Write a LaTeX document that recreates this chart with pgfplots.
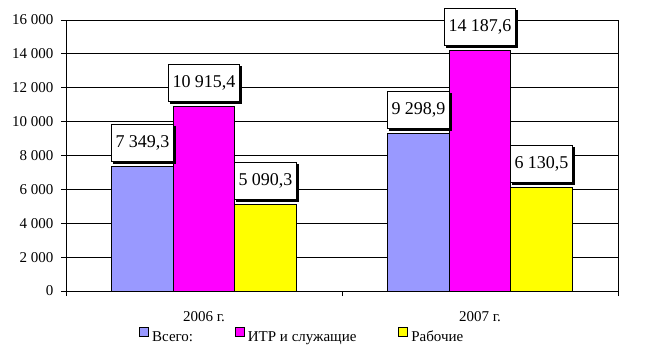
\documentclass[border=0pt]{standalone}
\usepackage{pgfplots}
\pgfplotsset{compat=1.18}
\usepackage{fontspec}
\setmainfont{Liberation Serif}
\usetikzlibrary{shadows}

\definecolor{cBlue}{HTML}{9999FF}
\definecolor{cMag}{HTML}{FF00FF}
\definecolor{cYel}{HTML}{FFFF00}

\begin{document}
\begin{tikzpicture}
\useasboundingbox (-66pt,-62pt) rectangle (581pt,291pt);
\begin{axis}[
  at={(0,0)}, anchor=south west,
  scale only axis, width=552pt, height=271pt,
  xmin=-0.5, xmax=1.5, ymin=0, ymax=16000,
  ybar=0pt, bar width=61.5pt,
  xtick={-0.5,0.5,1.5}, xticklabels={},
  extra x ticks={0,1}, extra x tick labels={2006 г., 2007 г.},
  extra x tick style={major tick length=0pt, tick label style={yshift=-16.5pt}},
  scaled y ticks=false,
  ytick={0,2000,...,16000},
  yticklabels={0,2 000,4 000,6 000,8 000,10 000,12 000,14 000,16 000},
  yticklabel style={xshift=-4pt},
  ymajorgrids, grid style={black, line width=0.8pt},
  axis line style={line width=0.8pt},
  tick style={black, line width=0.8pt},
  major tick length=5pt, tick align=outside,
  xtick pos=bottom, ytick pos=left,
  ticklabel style={font=\fontsize{15}{18}\selectfont},
  point meta=explicit symbolic,
  nodes near coords,
  every node near coord/.append style={font=\fontsize{18}{21}\selectfont, fill=white, draw=black, line width=0.8pt, inner xsep=4pt, inner ysep=11pt, text height=12pt, text depth=3pt, anchor=south, yshift=4.5pt, drop shadow={shadow xshift=2pt, shadow yshift=-2pt, opacity=1, fill=black}},
  legend style={at={(0.429,-0.166)}, anchor=center, draw=none, legend columns=3, font=\fontsize{15}{18}\selectfont, /tikz/every even column/.append style={column sep=39pt}, /tikz/every odd column/.append style={column sep=0pt}, nodes={inner xsep=3pt}},
  legend image code/.code={\draw[#1, line width=0.8pt] (-3pt,0.5pt) rectangle (6pt,9.5pt);},
]
\addplot[fill=cBlue, draw=black, line width=0.8pt] coordinates {(0,7349.3) [7 349,3] (1,9298.9) [9 298,9]};
\addplot[fill=cMag, draw=black, line width=0.8pt] coordinates {(0,10915.4) [10 915,4] (1,14187.6) [14 187,6]};
\addplot[fill=cYel, draw=black, line width=0.8pt] coordinates {(0,5090.3) [5 090,3] (1,6130.5) [6 130,5]};
\legend{Всего:, ИТР и служащие, Рабочие}
\end{axis}
\end{tikzpicture}
\end{document}
